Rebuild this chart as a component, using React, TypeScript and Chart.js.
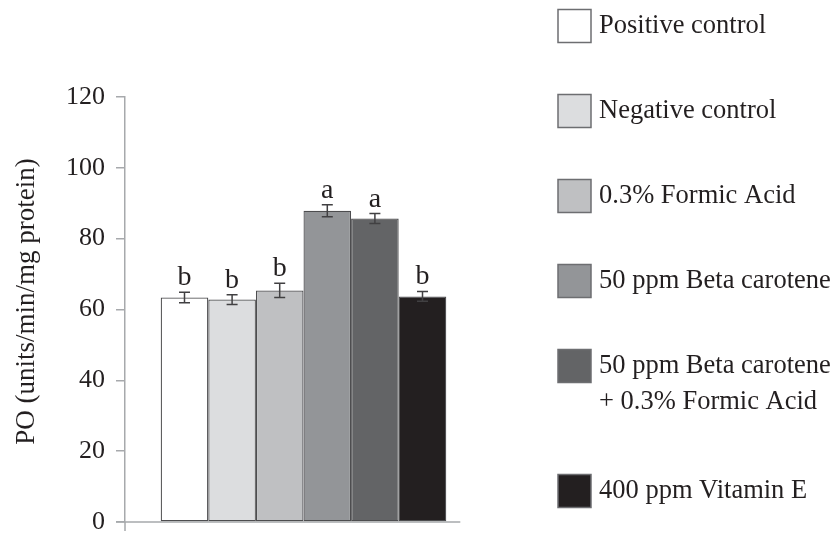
import React, { useEffect, useRef } from 'react';
import { Chart, registerables } from 'chart.js';

Chart.register(...registerables);

// ---- data ----
const groupLabels = [
  'Positive control',
  'Negative control',
  '0.3% Formic Acid',
  '50 ppm Beta carotene',
  '50 ppm Beta carotene\n+ 0.3% Formic Acid',
  '400 ppm Vitamin E',
];
const meanValues = [63.4, 62.8, 65.4, 87.9, 85.7, 63.7];
const errorValues = [1.5, 1.4, 2.0, 1.7, 1.4, 1.4];
const letters = ['b', 'b', 'b', 'a', 'a', 'b'];
const yTickValues = [0, 20, 40, 60, 80, 100, 120];
const yAxisTitle = 'PO (units/min/mg protein)';

// ---- styles ----
const barColors = ['#ffffff', '#dcdddf', '#bfc0c2', '#939598', '#636466', '#231f20'];
const FONT = "'Liberation Serif', 'Times New Roman', serif";
const TEXT = '#231f20';
const AXIS = '#a7a9ac';

const overlayPlugin = {
  id: 'overlay',
  beforeDatasetsDraw(chart: any) {
    const { ctx, chartArea, scales } = chart;
    const y0 = scales.y.getPixelForValue(0);
    const lastMeta = chart.getDatasetMeta(chart.data.datasets.length - 1);
    const lastBar = lastMeta.data[0] as any;
    const rightEnd = lastBar.x + lastBar.width / 2 + 14;
    ctx.save();
    ctx.strokeStyle = AXIS;
    ctx.lineWidth = 1.5;
    ctx.beginPath();
    ctx.moveTo(chartArea.left - 9, y0);
    ctx.lineTo(rightEnd, y0);
    ctx.moveTo(chartArea.left, y0);
    ctx.lineTo(chartArea.left, y0 + 9);
    ctx.stroke();
    ctx.restore();
  },
  afterDatasetsDraw(chart: any) {
    const { ctx, scales } = chart;
    const ys = scales.y;
    ctx.save();
    chart.data.datasets.forEach((ds: any, i: number) => {
      const bar = chart.getDatasetMeta(i).data[0] as any;
      const v = meanValues[i];
      const e = errorValues[i];
      const top = ys.getPixelForValue(v + e);
      const bot = ys.getPixelForValue(v - e);
      const x = bar.x;
      ctx.strokeStyle = '#414042';
      ctx.lineWidth = 1.5;
      ctx.beginPath();
      ctx.moveTo(x, top);
      ctx.lineTo(x, bot);
      ctx.moveTo(x - 5.5, top);
      ctx.lineTo(x + 5.5, top);
      ctx.moveTo(x - 5.5, bot);
      ctx.lineTo(x + 5.5, bot);
      ctx.stroke();
      ctx.fillStyle = TEXT;
      ctx.font = `28px ${FONT}`;
      ctx.textAlign = 'center';
      ctx.textBaseline = 'alphabetic';
      ctx.fillText(letters[i], x, top - 7);
    });
    ctx.restore();
  },
  afterDraw(chart: any) {
    const { ctx, chartArea } = chart;
    ctx.save();
    // y-axis title
    ctx.save();
    ctx.translate(26.5, (chartArea.top + chartArea.bottom) / 2 - 8);
    ctx.rotate(-Math.PI / 2);
    ctx.fillStyle = TEXT;
    ctx.font = `27px ${FONT}`;
    ctx.textAlign = 'center';
    ctx.textBaseline = 'middle';
    ctx.fillText(yAxisTitle, 0, 0);
    ctx.restore();
    // legend
    let yc = 26;
    chart.data.datasets.forEach((ds: any) => {
      const lines = String(ds.label).split('\n');
      const size = 33;
      ctx.fillStyle = ds.backgroundColor;
      ctx.fillRect(558, yc - size / 2, size, size);
      ctx.strokeStyle = '#6d6e71';
      ctx.lineWidth = 1.5;
      ctx.strokeRect(558, yc - size / 2, size, size);
      ctx.fillStyle = TEXT;
      ctx.font = `26.5px ${FONT}`;
      ctx.textAlign = 'left';
      ctx.textBaseline = 'middle';
      lines.forEach((ln, k) => ctx.fillText(ln, 599, yc + k * 36));
      yc += 85 + (lines.length - 1) * 40;
    });
    ctx.restore();
  },
};

export default function App() {
  const ref = useRef<HTMLCanvasElement | null>(null);
  useEffect(() => {
    document.body.style.margin = '0';
    const canvas = ref.current;
    if (!canvas) return;
    const chart = new Chart(canvas, {
      type: 'bar',
      data: {
        labels: [''],
        datasets: groupLabels.map((label, i) => ({
          label,
          data: [meanValues[i]],
          backgroundColor: barColors[i],
          borderColor: '#4d4d4f',
          borderWidth: 1.25,
          borderSkipped: false,
          categoryPercentage: 0.8,
          barPercentage: 1,
        })),
      },
      options: {
        responsive: false,
        animation: false,
        events: [],
        layout: { padding: { left: 0, top: 97, right: 355, bottom: 11 } },
        plugins: {
          legend: { display: false },
          tooltip: { enabled: false },
        },
        scales: {
          x: { display: false },
          y: {
            min: 0,
            max: 120,
            afterBuildTicks: (s: any) => {
              s.ticks = yTickValues.map((v) => ({ value: v }));
            },
            afterFit: (s: any) => {
              s.width = 125;
              s.paddingTop = 0;
              s.paddingBottom = 0;
            },
            ticks: {
              color: TEXT,
              font: { family: FONT, size: 26 },
              padding: 11,
            },
            grid: {
              drawOnChartArea: false,
              drawTicks: true,
              tickLength: 9,
              color: AXIS,
              lineWidth: 1.5,
            },
            border: { display: true, color: AXIS, width: 1.5 },
            title: { display: false },
          },
        },
      },
      plugins: [overlayPlugin],
    });
    return () => chart.destroy();
  }, []);
  return (
    <canvas ref={ref} width={837} height={533} style={{ display: 'block', width: 837, height: 533 }} />
  );
}
